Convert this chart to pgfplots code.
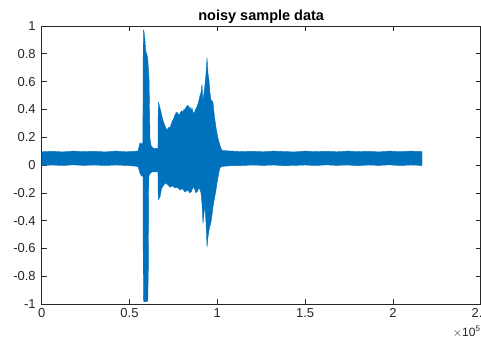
\documentclass[border=0pt]{standalone}
\usepackage{fontspec}
\setmainfont{Liberation Sans}
\usepackage{pgfplots}
\pgfplotsset{compat=1.18}
\definecolor{mblue}{RGB}{0,114,189}
\definecolor{axisgray}{RGB}{38,38,38}
\begin{document}
\begin{tikzpicture}
\begin{axis}[
  name=ax,
  scale only axis,
  width=439pt, height=278pt,
  xmin=0, xmax=250000, ymin=-1, ymax=1,
  scaled x ticks=false,
  xtick={0,50000,100000,150000,200000,250000},
  xticklabels={0,0.5,1,1.5,2,2.5},
  ytick={-1,-0.8,-0.6,-0.4,-0.2,0,0.2,0.4,0.6,0.8,1},
  yticklabels={-1,-0.8,-0.6,-0.4,-0.2,0,0.2,0.4,0.6,0.8,1},
  /pgf/number format/assume math mode=true,
  tick align=inside,
  major tick length=5pt,
  axis line style={draw=axisgray, line width=0.6pt},
  tick style={draw=axisgray, line width=0.6pt},
  tick label style={font=\fontsize{13}{13}\selectfont, text=axisgray},
  yticklabel style={xshift=-2.5pt},
  xticklabel style={yshift=-1pt},
  clip=true,
]
\addplot[draw=mblue, fill=mblue, line width=0.4pt] coordinates {
(0,0.095) (6000,0.099) (12000,0.094) (18000,0.1) (24000,0.096) (30000,0.099)
(36000,0.094) (42000,0.1) (48000,0.095) (54840,0.10) (55980,0.16) (56950,0.15)
(57600,0.16) (57860,0.97) (58260,0.96) (58800,0.90) (59230,0.82) (59800,0.80)
(60370,0.77) (61110,0.63) (61680,0.19) (62250,0.14) (62820,0.13) (63700,0.12)
(64530,0.12) (65670,0.12) (66200,0.11) (66400,0.45) (67000,0.43) (67370,0.41)
(68300,0.36) (69080,0.32) (70220,0.28) (71360,0.25) (72200,0.27) (73070,0.27)
(74200,0.31) (75340,0.34) (76200,0.37) (77050,0.38) (77900,0.36) (78760,0.37)
(79600,0.39) (80470,0.38) (81000,0.40) (81610,0.40) (82400,0.42) (83320,0.43)
(84000,0.40) (84460,0.42) (85000,0.39) (85600,0.41) (86200,0.38) (86730,0.37)
(87600,0.40) (88440,0.42) (89300,0.45) (90150,0.50) (90700,0.52) (91290,0.58)
(91600,0.50) (91860,0.46) (92400,0.52) (93000,0.58) (93600,0.66) (94140,0.77)
(94700,0.66) (95270,0.61) (95800,0.52) (96410,0.47) (97000,0.46) (97550,0.45)
(98100,0.38) (98690,0.32) (99260,0.27) (99830,0.23) (100400,0.19) (100970,0.165)
(101540,0.14) (102110,0.12) (102680,0.105) (108000,0.1) (114000,0.096)
(120000,0.099) (126000,0.095) (132000,0.1) (138000,0.097) (144000,0.094)
(150000,0.1) (156000,0.096) (162000,0.099) (168000,0.095) (174000,0.1)
(180000,0.096) (186000,0.099) (192000,0.094) (198000,0.1) (204000,0.096)
(210000,0.1) (216580,0.097)
(216580,-0.003) (210000,0.0) (204000,-0.004) (198000,0.001) (192000,-0.003)
(186000,0.0) (180000,-0.005) (174000,0.0) (168000,-0.003) (162000,0.001)
(156000,-0.004) (150000,0.0) (144000,-0.003) (138000,-0.005) (132000,0.0)
(126000,-0.003) (120000,0.0) (114000,-0.004) (108000,-0.005) (102680,-0.01)
(101540,-0.02) (100970,-0.05) (100400,-0.09) (99830,-0.13) (99260,-0.18)
(98400,-0.24) (97550,-0.30) (97000,-0.36) (96410,-0.41) (95800,-0.44)
(95270,-0.47) (94700,-0.52) (94140,-0.59) (93600,-0.42) (93000,-0.30)
(92400,-0.35) (91860,-0.42) (91290,-0.28) (90720,-0.20) (90150,-0.18)
(89580,-0.16) (88700,-0.19) (87870,-0.20) (87000,-0.17) (86160,-0.16)
(85300,-0.19) (84460,-0.20) (83000,-0.18) (81610,-0.195) (80200,-0.17)
(78760,-0.18) (77300,-0.16) (75910,-0.165) (74500,-0.15) (73070,-0.16)
(71600,-0.14) (70220,-0.13) (69300,-0.15) (68340,-0.165) (67370,-0.23)
(66400,-0.25) (66200,-0.05) (64500,-0.05) (62820,-0.05) (61800,-0.06)
(61000,-0.08) (60710,-0.75) (60400,-0.98) (58200,-0.985) (57860,-0.95)
(57700,-0.08) (56950,-0.08) (55980,-0.06) (54840,-0.01) (48000,-0.003)
(42000,0.0) (36000,-0.004) (30000,0.0) (24000,-0.003) (18000,0.001)
(12000,-0.004) (6000,0.0) (0,-0.003)
};
\end{axis}
\node[anchor=base, font=\bfseries\fontsize{14.5}{14.5}\selectfont, text=black]
  at ([yshift=5pt]ax.north) {noisy sample data};
\node[anchor=base east, font=\fontsize{12}{12}\selectfont, text=axisgray, inner sep=0pt]
  at ([yshift=-32pt]ax.south east) {$\times$10\textsuperscript{5}};
\pgfresetboundingbox
\path[use as bounding box] ([xshift=-41.7pt,yshift=-34pt]ax.south west) rectangle ([xshift=0.3pt,yshift=26pt]ax.north east);
\end{tikzpicture}
\end{document}
